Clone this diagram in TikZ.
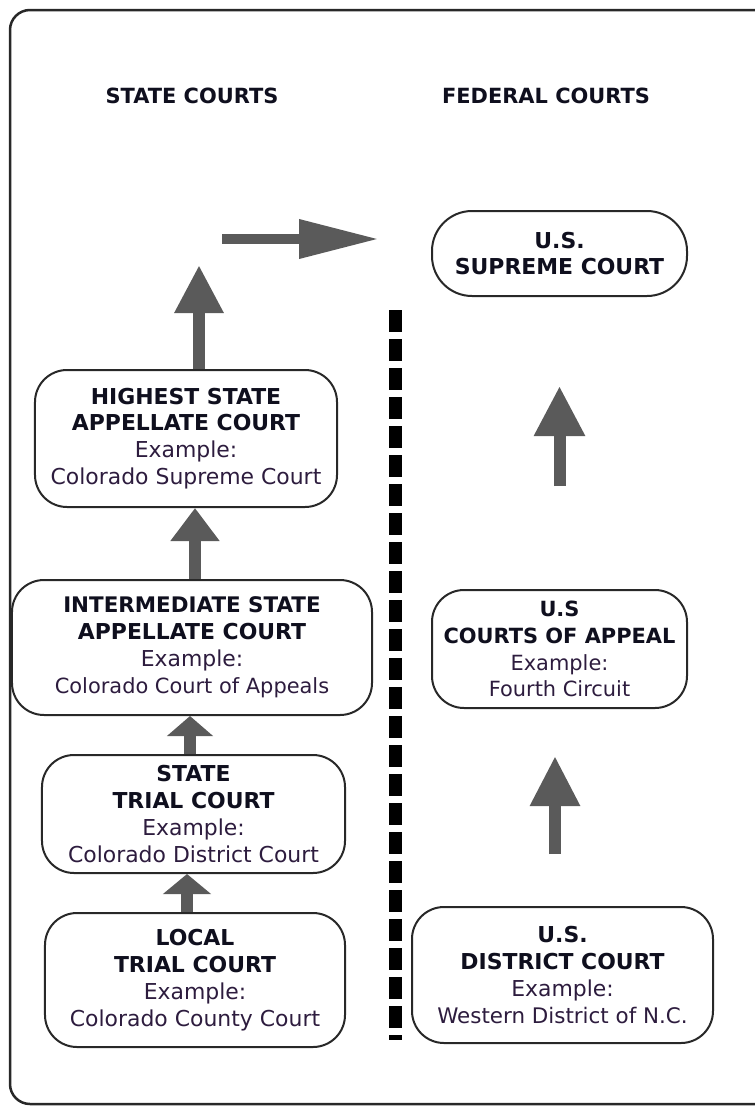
\documentclass[tikz,border=0pt]{standalone}
\usepackage{xcolor}
\usepackage{fontspec}
\setmainfont{DejaVu Sans}
\usetikzlibrary{arrows.meta}
\definecolor{arrowgray}{RGB}{90,90,90}
\definecolor{boxline}{RGB}{40,40,40}
\definecolor{headtext}{RGB}{15,15,30}
\definecolor{extext}{RGB}{45,28,62}
\newcommand{\hd}[1][22]{\color{headtext}\bfseries\fontsize{#1}{27}\selectfont}
\newcommand{\ex}[1][22]{\color{extext}\mdseries\fontsize{#1}{27}\selectfont}
\tikzset{court/.style={draw=boxline, line width=2bp, rounded corners=32bp, fill=white,
  align=center, inner sep=0pt, font=\fontsize{22}{27}\selectfont}}
\tikzset{uparrow/.style 2 args={draw=arrowgray, line width=12bp, -{Triangle[width=#1,length=#2]}}}

\begin{document}
\begin{tikzpicture}[x=1bp,y=-1bp]
\useasboundingbox (0,0) rectangle (755,1107);
\draw[draw=boxline, line width=2.5bp, rounded corners=20bp] (10,1104) rectangle (800,10);
\node[font=\fontsize{21}{24}\selectfont\bfseries, text=headtext] (statehead) at (192,96) {STATE COURTS};
\node[font=\fontsize{21}{24}\selectfont\bfseries, text=headtext] (fedhead) at (546,96) {FEDERAL COURTS};
% state side
\node[court, minimum width=302bp, minimum height=137bp] (highest) at (186,438.5)
  {\hd HIGHEST STATE\\ \hd APPELLATE COURT\\ \ex Example:\\ \ex Colorado Supreme Court};
\node[court, minimum width=360bp, minimum height=135bp] (intermediate) at (192,647.5)
  {\hd[21.5]INTERMEDIATE STATE\\ \hd APPELLATE COURT\\ \ex Example:\\ \ex[21]Colorado Court of Appeals};
\node[court, minimum width=303bp, minimum height=118bp] (trial) at (193.5,814)
  {\hd STATE\\ \hd TRIAL COURT\\ \ex Example:\\ \ex Colorado District Court};
\node[court, minimum width=300bp, minimum height=134bp] (local) at (195,980)
  {\hd LOCAL\\ \hd TRIAL COURT\\ \ex Example:\\ \ex Colorado County Court};
% federal side
\node[court, rounded corners=40bp, minimum width=255bp, minimum height=85bp] (supreme) at (559.5,253.5)
  {\hd U.S.\\ \hd SUPREME COURT};
\node[court, minimum width=255bp, minimum height=118bp] (appeals) at (559.5,649)
  {\hd[21]U.S\\ \hd[21]COURTS OF APPEAL\\ \ex[21]Example:\\ \ex[21]Fourth Circuit};
\node[court, minimum width=301bp, minimum height=136bp] (district) at (562.5,975)
  {\hd U.S.\\ \hd DISTRICT COURT\\ \ex Example:\\ \ex[21.5]Western District of N.C.};
% divider
\coordinate (divtop) at (395,310);
\coordinate (divbot) at (395,1040);
\draw[line width=13bp, dash pattern=on 22bp off 7bp] (divtop) -- (divbot);
% arrows
\coordinate (toptip) at (199,265);
\coordinate (hfrom) at (222,239);
\draw[uparrow={46bp}{48bp}] (highest.north -| toptip) -- (toptip);
\draw[draw=arrowgray, line width=10bp, -{Triangle[width=37bp,length=80bp]}, shorten >=52bp]
  (hfrom) -- (hfrom -| supreme.west);
\draw[uparrow={47bp}{33bp}] ([xshift=3bp]intermediate.north) -- ([xshift=3bp]intermediate.north |- highest.south);
\draw[uparrow={45bp}{20bp}] ([xshift=-3.5bp]trial.north) -- ([xshift=-3.5bp]trial.north |- intermediate.south);
\draw[uparrow={47bp}{20bp}] ([xshift=-8bp]local.north) -- ([xshift=-8bp]local.north |- trial.south);
\draw[uparrow={47bp}{50bp}, shorten <=52bp, shorten >=47bp] ([xshift=-7.5bp]district.north) -- ([xshift=-7.5bp]district.north |- appeals.south);
\draw[uparrow={48bp}{50bp}, shorten <=103bp, shorten >=89bp] (appeals.north) -- (appeals.north |- supreme.south);
\end{tikzpicture}
\end{document}
